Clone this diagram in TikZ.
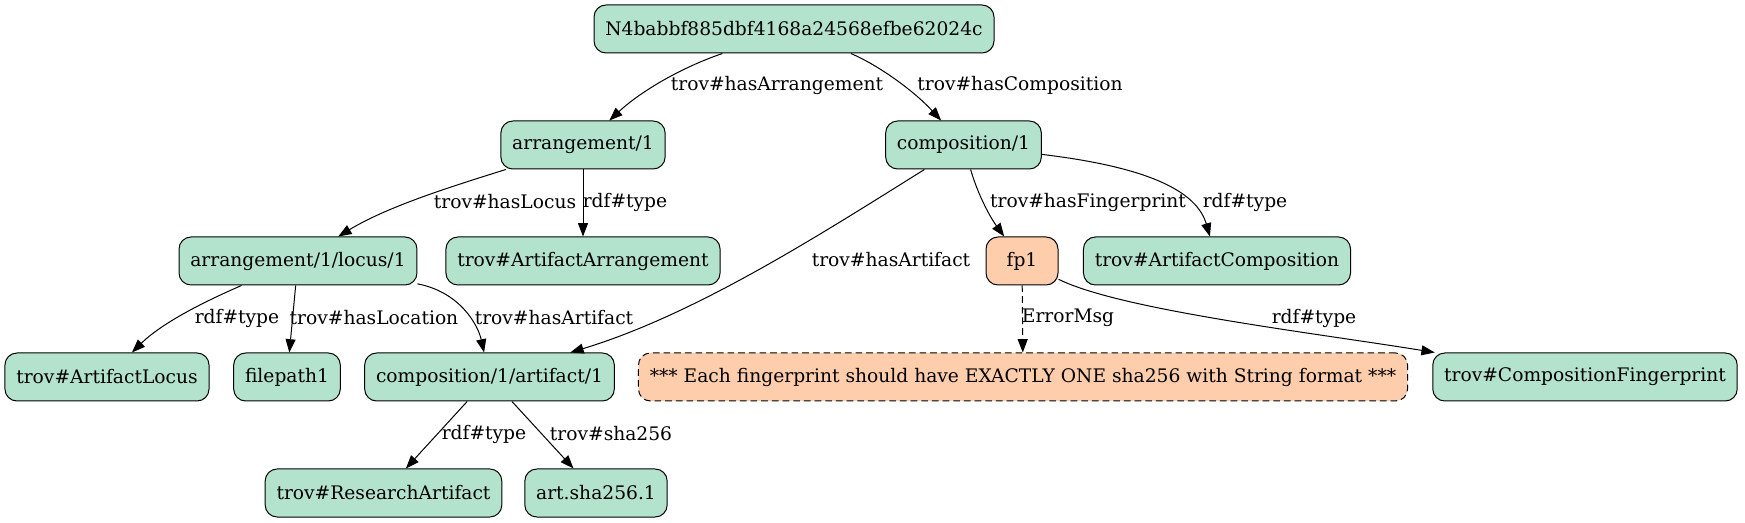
\documentclass[tikz,border=0pt]{standalone}
\usepackage{fontspec}
\setmainfont{DejaVu Serif}
\usetikzlibrary{arrows.meta}
\definecolor{mint}{HTML}{B3E2CD}
\definecolor{peach}{HTML}{FDCDAC}
\tikzset{
  box/.style={draw=black, line width=0.75pt, rounded corners=9pt, font=\fontsize{14pt}{17pt}\selectfont, inner xsep=8.5pt, inner ysep=0pt, minimum height=36pt, minimum width=54pt},
  term/.style={box, fill=mint},
  issue/.style={box, fill=peach},
  errbox/.style={issue, dash pattern=on 5pt off 3pt},
  arrow/.style={-{Triangle[length=10pt,width=7.5pt]}, line width=0.75pt},
  errarrow/.style={arrow, dash pattern=on 5pt off 3pt},
  edgelabel/.style={font=\fontsize{14pt}{17pt}\selectfont, inner sep=0pt}
}
\begin{document}
\begin{tikzpicture}[x=0.75pt, y=0.75pt]
\useasboundingbox (0,0) rectangle (1745,-523);

% graph nodes, one row after another
\node[term] (root) at (794,-29) {N4babbf885dbf4168a24568efbe62024c};

\node[term] (arr) at (583,-145) {arrangement/1};
\node[term] (comp) at (963.5,-145) {composition/1};

\node[term] (locus) at (298,-261) {arrangement/1/locus/1};
\node[term] (artarr) at (583,-261) {trov\#ArtifactArrangement};
\node[issue] (fp) at (1022,-261) {fp1};
\node[term] (artcomp) at (1217,-261) {trov\#ArtifactComposition};

\node[term] (artlocus) at (107,-377) {trov\#ArtifactLocus};
\node[term] (path) at (287,-377) {filepath1};
\node[term] (artifact) at (489.5,-377) {composition/1/artifact/1};
\node[errbox] (err) at (1023,-377) {*** Each fingerprint should have EXACTLY ONE sha256 with String format ***};
\node[term] (compfp) at (1585,-377) {trov\#CompositionFingerprint};

\node[term] (resart) at (383.5,-493) {trov\#ResearchArtifact};
\node[term] (sha) at (596,-493) {art.sha256.1};

% edges
\draw[arrow] (root) .. controls (680,-68) and (640,-92) .. (arr);
\draw[arrow] (root) .. controls (880,-66) and (915,-92) .. (comp);
\draw[arrow] (arr) .. controls (460,-184) and (390,-205) .. (locus);
\draw[arrow] (arr) -- (artarr);
\draw[arrow] (comp) .. controls (815,-238) and (694,-315) .. (artifact);
\draw[arrow] (comp) .. controls (978,-195) and (990,-217) .. (fp);
\draw[arrow] (comp) .. controls (1130,-165) and (1195,-185) .. (artcomp);
\draw[arrow] (locus) .. controls (215,-297) and (165,-320) .. (artlocus);
\draw[arrow] (locus) -- (path);
\draw[arrow] (locus) .. controls (460,-292) and (478,-325) .. (artifact);
\draw[errarrow] (fp) -- (err);
\draw[arrow] (fp) .. controls (1120,-310) and (1315,-333) .. (compfp);
\draw[arrow] (artifact) -- (resart);
\draw[arrow] (artifact) -- (sha);

% edge labels
\node[edgelabel] (l-arr) at (777,-85) {trov\#hasArrangement};
\node[edgelabel] (l-comp) at (1020,-85) {trov\#hasComposition};
\node[edgelabel] (l-locus) at (505,-202) {trov\#hasLocus};
\node[edgelabel] (l-artarr) at (625,-202) {rdf\#type};
\node[edgelabel] (l-fp) at (1088,-202) {trov\#hasFingerprint};
\node[edgelabel] (l-artcomp) at (1245,-202) {rdf\#type};
\node[edgelabel] (l-artifact) at (891,-260) {trov\#hasArtifact};
\node[edgelabel] (l-artlocus) at (237,-318) {rdf\#type};
\node[edgelabel] (l-path) at (374,-318) {trov\#hasLocation};
\node[edgelabel] (l-locart) at (554,-318) {trov\#hasArtifact};
\node[edgelabel] (l-err) at (1068,-318) {ErrorMsg};
\node[edgelabel] (l-compfp) at (1314,-318) {rdf\#type};
\node[edgelabel] (l-resart) at (484,-434) {rdf\#type};
\node[edgelabel] (l-sha) at (611,-434) {trov\#sha256};
\end{tikzpicture}
\end{document}
